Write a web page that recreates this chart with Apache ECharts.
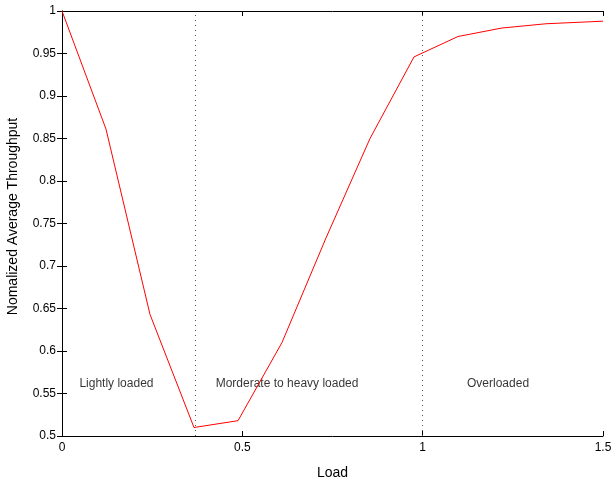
<!DOCTYPE html>
<html><head><meta charset="utf-8">
<script src="https://cdn.jsdelivr.net/npm/echarts@6/dist/echarts.min.js"></script>
<style>html,body{margin:0;padding:0;background:#fff}#c{width:613px;height:482px}</style>
</head><body><div id="c"></div>
<script>
const loadX = [0, 0.122, 0.244, 0.366, 0.488, 0.61, 0.732, 0.854, 0.976, 1.098, 1.22, 1.342, 1.5];
const throughput = [1.0, 0.861, 0.643, 0.510, 0.518, 0.610, 0.733, 0.850, 0.946, 0.970, 0.980, 0.985, 0.988];
const regionLines = [0.37, 1.0];
const regionLabels = ['Lightly loaded', 'Morderate to heavy loaded', 'Overloaded'];
const regionLabelX = [0.151, 0.624, 1.209];
const regionLabelY = 0.5615;
const xTicks = [0, 0.5, 1, 1.5];
const yTicks = [0.5, 0.55, 0.6, 0.65, 0.7, 0.75, 0.8, 0.85, 0.9, 0.95, 1];

const font = 'Liberation Sans, Arial, sans-serif';
const chart = echarts.init(document.getElementById('c'));
const axisLine = {show: true, lineStyle: {color: '#000', width: 1}};
const tick = {show: true, inside: true, length: 5, lineStyle: {color: '#000'}};
chart.setOption({
  animation: false,
  grid: {left: 62, right: 10, top: 11, bottom: 46, containLabel: false, outerBoundsMode: 'none'},
  xAxis: [{
    type: 'value', min: 0, max: 1.5, interval: 0.5, position: 'bottom',
    axisLine, axisTick: tick, splitLine: {show: false},
    axisLabel: {color: '#000', fontFamily: font, fontSize: 12, margin: 6,
      formatter: v => String(v)},
    name: 'Load', nameLocation: 'middle', nameGap: 30,
    nameTextStyle: {color: '#000', fontFamily: font, fontSize: 14}
  }, {
    type: 'value', min: 0, max: 1.5, interval: 0.5, position: 'top',
    axisLine, axisTick: tick, axisLabel: {show: false}, splitLine: {show: false}
  }],
  yAxis: [{
    type: 'value', min: 0.5, max: 1, interval: 0.05, position: 'left',
    axisLine, axisTick: tick, splitLine: {show: false},
    axisLabel: {color: '#000', fontFamily: font, fontSize: 12, margin: 6,
      formatter: v => String(+v.toFixed(2))},
    name: 'Nomalized Average Throughput', nameLocation: 'middle', nameGap: 42,
    nameTextStyle: {color: '#000', fontFamily: font, fontSize: 14, padding: [0, 0, 0, 14]}
  }, {
    type: 'value', min: 0.5, max: 1, interval: 0.05, position: 'right',
    axisLine, axisTick: tick, axisLabel: {show: false}, splitLine: {show: false}
  }],
  series: [{
    type: 'line', xAxisIndex: 0, yAxisIndex: 0,
    data: loadX.map((x, i) => [x, throughput[i]]),
    showSymbol: false, symbol: 'none',
    lineStyle: {color: '#ff0000', width: 1},
    markLine: {
      silent: true, symbol: 'none', label: {show: false},
      lineStyle: {color: '#555', type: [1, 4], width: 1},
      data: regionLines.map(x => ({xAxis: x}))
    }
  }, {
    type: 'scatter', xAxisIndex: 0, yAxisIndex: 0,
    symbolSize: 0, silent: true,
    data: regionLabels.map((t, i) => ({value: [regionLabelX[i], regionLabelY], name: t})),
    label: {show: true, position: 'inside', formatter: p => p.name,
      color: '#000', fontFamily: font, fontSize: 12}
  }]
});
</script></body></html>
